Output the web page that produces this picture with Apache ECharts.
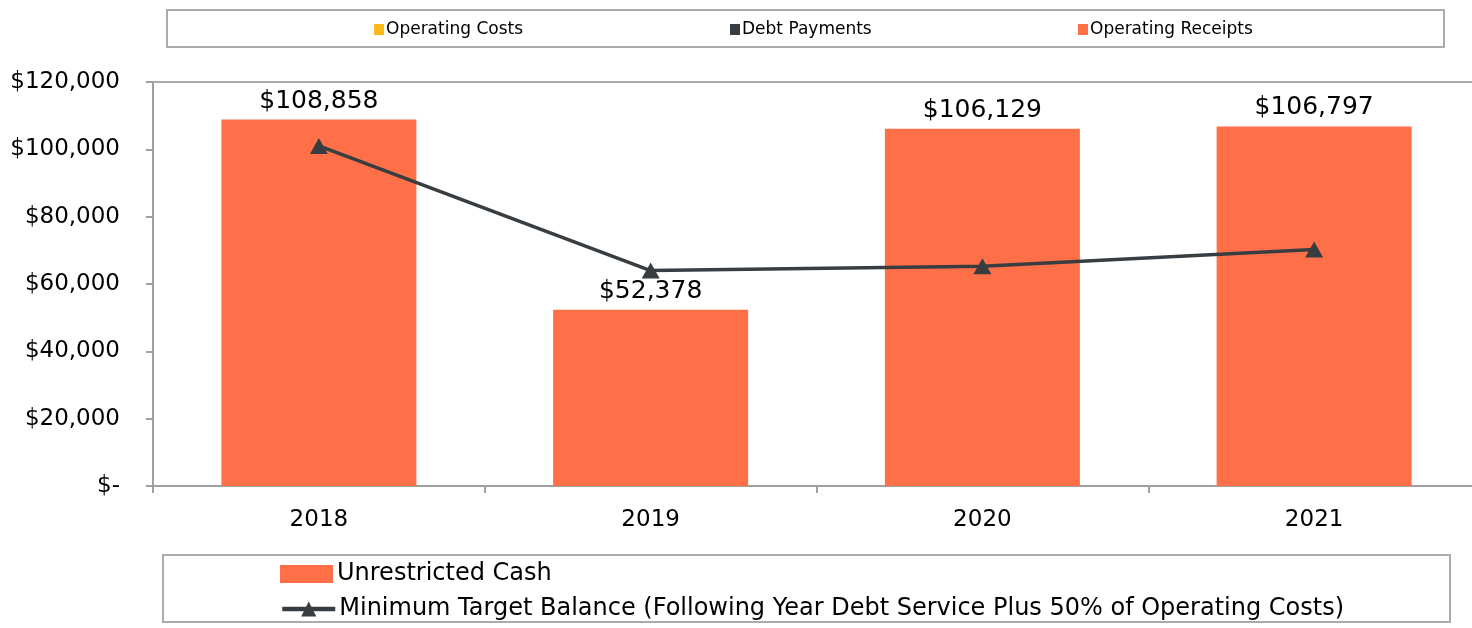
<!DOCTYPE html>
<html>
<head>
<meta charset="utf-8">
<script src="https://cdn.jsdelivr.net/npm/echarts@6/dist/echarts.min.js"></script>
<style>
html,body{margin:0;padding:0;background:#fff;overflow:hidden;}
#chart{width:1480px;height:628px;}
</style>
</head>
<body>
<div id="chart"></div>
<script>
const categories = ['2018', '2019', '2020', '2021'];
const unrestrictedCash = [108858, 52378, 106129, 106797];
const minimumTarget = [101000, 64000, 65300, 70250];
const yTicks = [0, 20000, 40000, 60000, 80000, 100000, 120000];

const chart = echarts.init(document.getElementById('chart'));
const fontFamily = '"DejaVu Sans", Roboto, sans-serif';

function money(v) {
  if (v === 0) return '$-';
  return '$' + v.toLocaleString('en-US');
}

const barColor = '#FF7049';
const lineColor = '#373D41';

const topLegendText = { fontSize: 17, color: '#000', fontFamily: fontFamily, padding: [0, 0, 0, -3] };
const bottomLegendText = { fontSize: 24, color: '#000', fontFamily: fontFamily, padding: [0, 0, 0, -1] };

chart.setOption({
  animation: false,
  backgroundColor: '#ffffff',
  textStyle: { fontFamily: fontFamily },
  graphic: [
    { type: 'rect', shape: { x: 167, y: 10, width: 1277, height: 37 }, style: { fill: 'none', stroke: '#ababab', lineWidth: 2 }, silent: true },
    { type: 'rect', shape: { x: 163, y: 555, width: 1287, height: 67 }, style: { fill: 'none', stroke: '#ababab', lineWidth: 2 }, silent: true }
  ],
  legend: [
    { data: ['Operating Costs'], left: 369, top: 16, itemWidth: 10, itemHeight: 11, itemGap: 0, icon: 'rect', textStyle: topLegendText },
    { data: ['Debt Payments'], left: 725, top: 16, itemWidth: 10, itemHeight: 11, itemGap: 0, icon: 'rect', textStyle: topLegendText },
    { data: ['Operating Receipts'], left: 1073, top: 16, itemWidth: 10, itemHeight: 11, itemGap: 0, icon: 'rect', textStyle: topLegendText },
    { data: ['Unrestricted Cash'], left: 275, top: 557, itemWidth: 53, itemHeight: 18, icon: 'rect', textStyle: bottomLegendText },
    { data: ['Minimum Target Balance (Following Year Debt Service Plus 50% of Operating Costs)'], left: 275, top: 592, itemWidth: 53, itemHeight: 19, textStyle: bottomLegendText, lineStyle: { width: 4.5, color: lineColor } }
  ],
  grid: { left: 153, top: 82, right: 0, height: 404, containLabel: false },
  xAxis: [
    {
      type: 'category',
      data: categories,
      position: 'bottom',
      axisLine: { show: true, lineStyle: { color: '#a0a0a0', width: 2 } },
      axisTick: { show: true, alignWithLabel: false, length: 7, lineStyle: { color: '#a0a0a0', width: 2 } },
      axisLabel: { fontSize: 23, color: '#000', margin: 23, fontFamily: fontFamily }
    },
    {
      type: 'category',
      data: categories,
      position: 'top',
      axisLine: { show: true, lineStyle: { color: '#ababab', width: 2 } },
      axisTick: { show: false },
      axisLabel: { show: false }
    }
  ],
  yAxis: {
    type: 'value',
    min: yTicks[0],
    max: yTicks[yTicks.length - 1],
    interval: 20000,
    axisLine: { show: true, lineStyle: { color: '#a0a0a0', width: 2 } },
    axisTick: { show: true, inside: false, length: 7, lineStyle: { color: '#a0a0a0', width: 2 } },
    splitLine: { show: false },
    axisLabel: { fontSize: 23, color: '#000', margin: 33, formatter: money, fontFamily: fontFamily }
  },
  series: [
    { name: 'Operating Costs', type: 'bar', data: [], itemStyle: { color: '#FFB81C' } },
    { name: 'Debt Payments', type: 'bar', data: [], itemStyle: { color: '#373D41' } },
    { name: 'Operating Receipts', type: 'bar', data: [], itemStyle: { color: barColor } },
    {
      name: 'Unrestricted Cash',
      type: 'bar',
      data: unrestrictedCash,
      barWidth: 195,
      barGap: '-100%',
      itemStyle: { color: barColor },
      label: { show: true, position: 'top', distance: 6, fontSize: 25, color: '#000', formatter: p => money(p.value), fontFamily: fontFamily }
    },
    {
      name: 'Minimum Target Balance (Following Year Debt Service Plus 50% of Operating Costs)',
      type: 'line',
      data: minimumTarget,
      symbol: 'triangle',
      symbolSize: [18, 16],
      showAllSymbol: true,
      lineStyle: { color: lineColor, width: 3.5 },
      itemStyle: { color: lineColor },
      z: 10
    }
  ]
});
</script>
</body>
</html>
